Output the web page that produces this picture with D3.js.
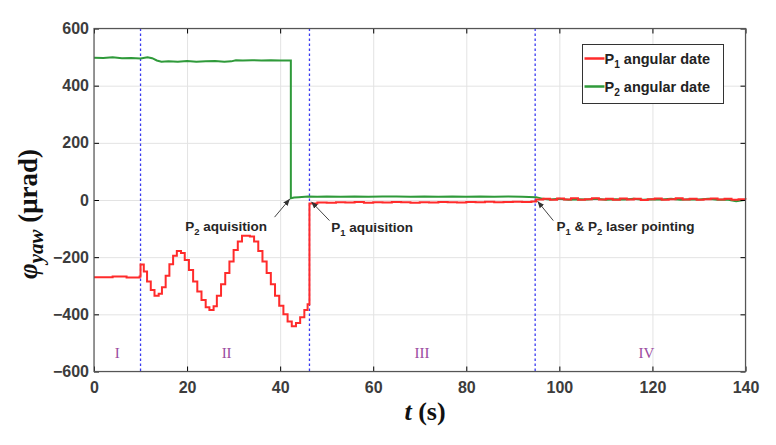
<!DOCTYPE html>
<html>
<head>
<meta charset="utf-8">
<script src="https://cdn.jsdelivr.net/npm/d3@7"></script>
<style>
  body { margin: 0; background: #fff; }
  text { font-family: "Liberation Sans", Arial, sans-serif; }
</style>
</head>
<body>
<div id="chart"></div>
<script>
"use strict";

/* global d3 */

let xTicks = [0, 20, 40, 60, 80, 100, 120, 140];
let yTicks = [-600, -400, -200, 0, 200, 400, 600];

// phase boundaries (s) and the roman numerals between them
let phaseBounds = [10, 46.3, 94.8];
let phaseNames = ['I', 'II', 'III', 'IV'];
let phaseNameT = [5, 28.5, 70.5, 118.7];

// P1 angular data [t, value]
let p1Data = [
  [0, -270], [4, -268], [7, -271], [9.8, -268], [10.0, -226], [10.7, -250], [11.4, -285],
  [12.2, -315], [13.0, -335], [13.9, -328], [14.6, -305], [15.4, -265], [16.2, -225],
  [17.0, -195], [17.8, -178], [18.7, -185], [19.5, -210], [20.4, -245], [21.3, -285],
  [22.2, -320], [23.1, -350], [24.0, -375], [24.8, -385], [25.7, -372], [26.4, -335],
  [27.3, -295], [28.2, -255], [29.1, -215], [30.0, -175], [30.9, -145], [31.8, -125],
  [33.5, -128], [34.4, -145], [35.3, -178], [36.2, -215], [37.1, -255], [38.0, -295],
  [38.9, -335], [39.8, -370], [40.7, -400], [41.6, -425], [42.5, -442], [43.4, -430],
  [44.3, -410], [45.2, -385], [45.9, -365], [46.3, -12],
  [48, -9], [50, -10], [52, -8], [54, -9], [56, -7], [58, -10], [60, -8], [62, -9],
  [64, -7], [66, -8], [68, -10], [70, -8], [72, -9], [74, -7], [76, -8], [78, -9],
  [80, -7], [82, -8], [84, -6], [86, -8], [88, -7], [90, -6], [92, -7], [94, -5],
  [95, 2], [96.5, 4], [98, 1], [99.5, 5], [101, 2], [102.5, 6], [104, 1], [105.5, 3],
  [107, 6], [108.5, 2], [110, 4], [111.5, 1], [113, 5], [114.5, 2], [116, 4], [117.5, 0],
  [119, 3], [120.5, 5], [122, 1], [123.5, 3], [125, 6], [126.5, 2], [128, 4], [129.5, 1],
  [131, 3], [132.5, 5], [134, 2], [135.5, 4], [137, 1], [138.5, 3], [140, 2]
];

// P2 angular data [t, value]
let p2Data = [
  [0, 498], [2, 497], [4, 499], [6, 496], [8, 497], [10, 495], [11.5, 499], [12.5, 496],
  [13.5, 488], [14.5, 484], [16, 485], [18, 484], [20, 486], [22, 484], [24, 485],
  [26, 486], [28, 484], [29.5, 485], [30.5, 489], [32, 488], [34, 489], [36, 488],
  [38, 489], [40, 488], [42.3, 488], [42.3, 6], [43, 9], [44, 10], [46, 12], [48, 11],
  [50, 12], [53, 11], [56, 12], [59, 11], [62, 12], [65, 12], [68, 11], [71, 12],
  [74, 11], [77, 12], [80, 11], [83, 12], [86, 11], [89, 12], [92, 11], [95, 10],
  [96.5, 4], [98, 2], [100, 4], [102, 1], [104, 3], [106, 2], [108, 4], [110, 1],
  [112, 3], [114, 2], [116, 4], [118, 1], [120, 3], [122, 2], [124, 4], [126, 1],
  [128, 3], [130, 2], [132, 4], [134, 1], [136, 2], [138, -4], [140, 1]
];

let seriesNames = ['P', 'P'];
let seriesSubs = ['1', '2'];
let seriesColors = ['#ff2b2b', '#2f9a3a'];

let annotations = [
  { parts: [['P', 0], ['2', 1], [' aquisition', 0]], t: 19.6, v: -108, from: [38.8, -60], to: [42.1, 4] },
  { parts: [['P', 0], ['1', 1], [' aquisition', 0]], t: 51.0, v: -112, from: [50.6, -72], to: [46.7, -6] },
  { parts: [['P', 0], ['1', 1], [' & P', 0], ['2', 1], [' laser pointing', 0]], t: 99.4, v: -108, from: [98.7, -72], to: [95.3, -4] }
];

let margin = { top: 28.5, right: 30.5, bottom: 73.5, left: 94 };
let width = 776 - margin.left - margin.right;
let height = 445 - margin.top - margin.bottom;

let svg = d3.select('#chart')
  .append('svg')
  .attr('width', 776)
  .attr('height', 445)
  .append('g')
  .attr('transform', 'translate(' + margin.left + ',' + margin.top + ')');

let x = d3.scaleLinear().domain([0, 140]).range([0, width]);
let y = d3.scaleLinear().domain([-600, 600]).range([height, 0]);

// grid
svg.append('g')
  .attr('transform', 'translate(0,' + height + ')')
  .call(d3.axisBottom(x).tickValues(xTicks).tickSize(-height).tickFormat(''))
  .call(g => g.select('.domain').remove())
  .call(g => g.selectAll('line').attr('stroke', '#e3e3e3'));

svg.append('g')
  .call(d3.axisLeft(y).tickValues(yTicks).tickSize(-width).tickFormat(''))
  .call(g => g.select('.domain').remove())
  .call(g => g.selectAll('line').attr('stroke', '#e3e3e3'));

// phase boundaries
svg.selectAll('.phase')
  .data(phaseBounds)
  .enter().append('line')
  .attr('x1', d => x(d)).attr('x2', d => x(d))
  .attr('y1', y(600)).attr('y2', y(-600))
  .attr('stroke', '#3a3af0')
  .attr('stroke-width', 1.3)
  .attr('stroke-dasharray', '2.5,2.5');

svg.selectAll('.phase-name')
  .data(phaseNames)
  .enter().append('text')
  .attr('x', (d, i) => x(phaseNameT[i]))
  .attr('y', y(-552))
  .attr('text-anchor', 'middle')
  .style('font-family', '"Liberation Serif", serif')
  .attr('font-size', 15)
  .attr('fill', '#9a4a9e')
  .text(d => d);

// series
let lineStep = d3.line()
  .x(d => x(d[0]))
  .y(d => y(d[1]))
  .curve(d3.curveStepAfter);

let lineLin = d3.line()
  .x(d => x(d[0]))
  .y(d => y(d[1]));

svg.append('path')
  .datum(p2Data)
  .attr('fill', 'none')
  .attr('stroke', seriesColors[1])
  .attr('stroke-width', 2)
  .attr('d', lineLin);

svg.append('path')
  .datum(p1Data)
  .attr('fill', 'none')
  .attr('stroke', seriesColors[0])
  .attr('stroke-width', 2)
  .attr('d', lineStep);

// axes, matlab style ticks inward
svg.append('g')
  .attr('class', 'axis')
  .attr('transform', 'translate(0,' + height + ')')
  .call(d3.axisBottom(x).tickValues(xTicks).tickSize(-5).tickPadding(10));

svg.append('g')
  .attr('class', 'axis')
  .call(d3.axisLeft(y).tickValues(yTicks).tickSize(-5).tickPadding(5));

svg.append('g')
  .call(d3.axisTop(x).tickValues(xTicks).tickSize(-5).tickFormat(''));

svg.append('g')
  .attr('transform', 'translate(' + width + ',0)')
  .call(d3.axisRight(y).tickValues(yTicks).tickSize(-5).tickFormat(''));

svg.selectAll('.domain').remove();

svg.selectAll('.axis text')
  .attr('font-size', 16)
  .attr('font-weight', 'bold')
  .attr('fill', '#3c3c3c')
  .style('font-family', '"Liberation Sans", Arial, sans-serif');

svg.append('rect')
  .attr('width', width)
  .attr('height', height)
  .attr('fill', 'none')
  .attr('stroke', '#555')
  .attr('stroke-width', 1.2);

// annotations
let defs = svg.append('defs');
defs.append('marker')
  .attr('id', 'arrow')
  .attr('viewBox', '0 0 10 10')
  .attr('refX', 10).attr('refY', 5)
  .attr('markerWidth', 7).attr('markerHeight', 7)
  .attr('orient', 'auto')
  .append('path')
  .attr('d', 'M0,1 L10,5 L0,9 z')
  .attr('fill', '#333');

function writeParts(textSel, parts, size) {
  let shifted = false;
  parts.forEach(p => {
    let ts = textSel.append('tspan').text(p[0]);
    if (p[1] && !shifted) {
      ts.attr('font-size', size * 0.7).attr('dy', size * 0.3);
      shifted = true;
    } else if (!p[1] && shifted) {
      ts.attr('dy', -size * 0.3);
      shifted = false;
    }
  });
}

annotations.forEach(a => {
  svg.append('line')
    .attr('x1', x(a.from[0])).attr('y1', y(a.from[1]))
    .attr('x2', x(a.to[0])).attr('y2', y(a.to[1]))
    .attr('stroke', '#444')
    .attr('stroke-width', 1)
    .attr('marker-end', 'url(#arrow)');
  let t = svg.append('text')
    .attr('x', x(a.t))
    .attr('y', y(a.v))
    .attr('font-size', 13.5)
    .attr('font-weight', 'bold')
    .attr('fill', '#262626');
  writeParts(t, a.parts, 13.5);
});

// legend
let legend = svg.append('g')
  .attr('transform', 'translate(' + (582.5 - margin.left) + ',' + (44.5 - margin.top) + ')');

legend.append('rect')
  .attr('width', 141)
  .attr('height', 59)
  .attr('fill', '#fff')
  .attr('stroke', '#333')
  .attr('stroke-width', 1);

seriesNames.forEach((name, i) => {
  let row = legend.append('g').attr('transform', 'translate(0,' + (14 + i * 28) + ')');
  row.append('line')
    .attr('x1', 2).attr('x2', 22)
    .attr('stroke', seriesColors[i])
    .attr('stroke-width', 2.5);
  let t = row.append('text')
    .attr('x', 22)
    .attr('y', 5)
    .attr('font-size', 14.5)
    .attr('font-weight', 'bold')
    .attr('fill', '#222');
  writeParts(t, [[name, 0], [seriesSubs[i], 1], [' angular date', 0]], 14.5);
});

// axis titles
let yTitle = svg.append('text')
  .attr('transform', 'translate(' + (37 - margin.left) + ',' + (214 - margin.top) + ') rotate(-90)')
  .attr('text-anchor', 'middle')
  .style('font-family', '"Liberation Serif", "DejaVu Serif", serif')
  .attr('font-weight', 'bold')
  .attr('font-size', 27)
  .attr('fill', '#111');
yTitle.append('tspan').attr('font-style', 'italic').text('φ');
yTitle.append('tspan').attr('font-style', 'italic').attr('font-size', 21).attr('dy', 6).text('yaw');
yTitle.append('tspan').attr('dy', -6).text(' (μrad)');

let xTitle = svg.append('text')
  .attr('x', 425 - margin.left)
  .attr('y', 420 - margin.top)
  .attr('text-anchor', 'middle')
  .style('font-family', '"Liberation Serif", "DejaVu Serif", serif')
  .attr('font-weight', 'bold')
  .attr('font-size', 26)
  .attr('fill', '#111');
xTitle.append('tspan').attr('font-style', 'italic').text('t');
xTitle.append('tspan').text(' (s)');
</script>
</body>
</html>
